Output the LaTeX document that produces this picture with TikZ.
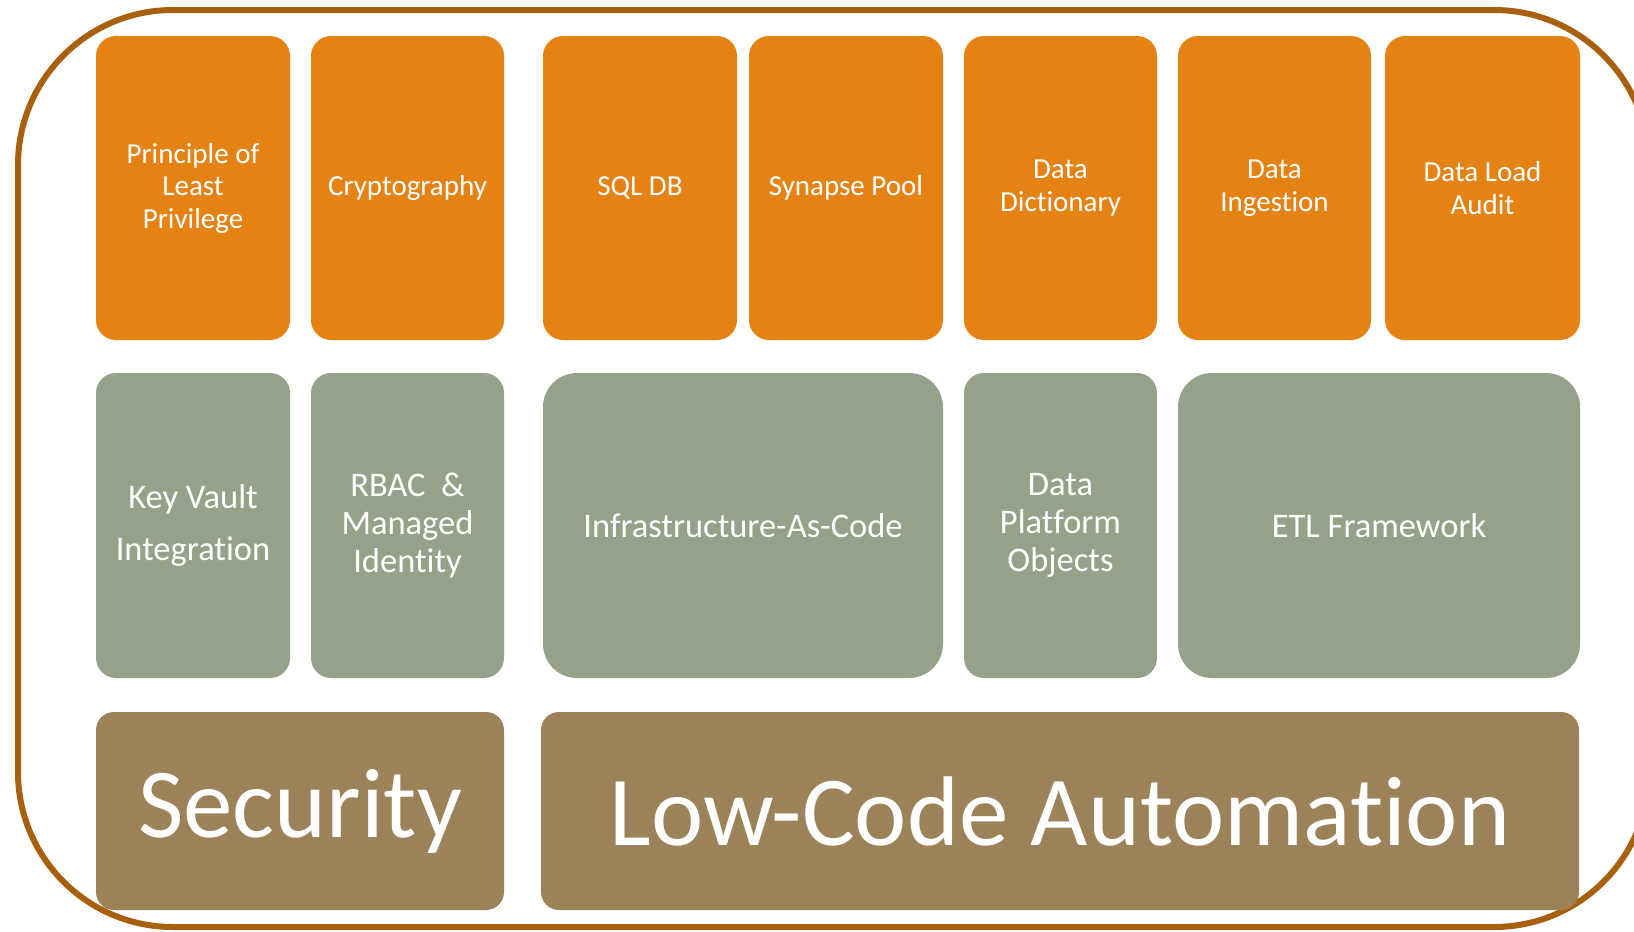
\documentclass[tikz,border=0pt]{standalone}
\usepackage{fontspec}
\setmainfont{Carlito}[Ligatures={NoCommon,NoRequired,NoContextual},RawFeature={-liga;-dlig;-clig;-calt}]
\definecolor{orangebox}{HTML}{E48214}
\definecolor{greenbox}{HTML}{95A189}
\definecolor{brownbox}{HTML}{9C8258}
\definecolor{frame}{HTML}{A8600E}
\newcommand{\nolig}{\kern0pt }
\tikzset{
  tile/.style={draw=none, text=white, align=center, inner sep=0pt, minimum height=#1},
  topbox/.style={tile=304pt, fill=orangebox, rounded corners=20pt, font=\fontsize{29}{32.5}\selectfont},
  midbox/.style={tile=305pt, fill=greenbox, rounded corners=20pt, font=\fontsize{34.5}{38}\selectfont},
  widebox/.style={tile=305pt, fill=greenbox, rounded corners=34pt, font=\fontsize{34.5}{38}\selectfont},
  basebox/.style={tile=198pt, fill=brownbox, rounded corners=18pt, font=\fontsize{99}{105}\selectfont},
  outerframe/.style={draw=frame, line width=6pt, rounded corners=155pt}
}
\begin{document}
\begin{tikzpicture}[x=1pt,y=-1pt]
\useasboundingbox (0,0) rectangle (1634,932);
\clip (0,0) rectangle (1634,932);
\fill[white] (0,0) rectangle (1634,932);
\draw[outerframe] (18,10) rectangle (1649,927);
% top row
\node[topbox, minimum width=194pt] (t1) at (193,188) {Principle of\\Least\\Privilege};
\node[topbox, minimum width=193pt] (t2) at (407.5,188) {Cryptography};
\node[topbox, minimum width=194pt] (t3) at (640,188) {SQL DB};
\node[topbox, minimum width=194pt] (t4) at (846,188) {Synapse Pool};
\node[topbox, minimum width=193pt] (t5) at (1060.5,188) {Data\\Dictionary};
\node[topbox, minimum width=193pt] (t6) at (1274.5,188) {Data\\Ingestion};
\node[topbox, minimum width=195pt] (t7) at (1482.5,188) {Data Load\\Audit};
% middle row
\node[midbox, minimum width=194pt] (m1) at (193,525.5) {Key Vault\\[14pt]Integrat\nolig ion};
\node[midbox, minimum width=193pt] (m2) at (407.5,525.5) {RBAC\ \ \&\\Managed\\Ident\nolig ity};
\node[widebox, minimum width=400pt] (m3) at (743,525.5) {Infrastructure-As-Code};
\node[midbox, minimum width=193pt] (m4) at (1060.5,525.5) {Data\\Platform\\Objects};
\node[widebox, minimum width=402pt] (m5) at (1379,525.5) {ETL Framework};
% bottom row
\node[basebox, minimum width=408pt] (b1) at (300,811) {Security};
\node[basebox, minimum width=1038pt] (b2) at (1060,811) {Low-Code Automat\nolig ion};
\end{tikzpicture}
\end{document}
